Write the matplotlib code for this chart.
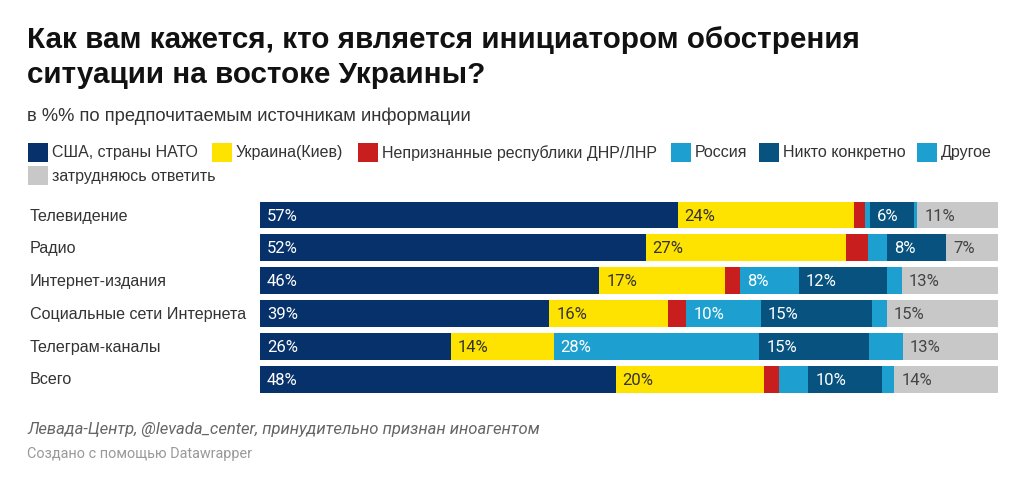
import numpy as np
import matplotlib.pyplot as plt
from matplotlib.patches import Rectangle

W, H = 1034, 489

sources = ["Телевидение", "Радио", "Интернет-издания", "Социальные сети Интернета",
           "Телеграм-каналы", "Всего"]
series = ["США, страны НАТО", "Украина(Киев)", "Непризнанные республики ДНР/ЛНР",
          "Россия", "Никто конкретно", "Другое", "затрудняюсь ответить"]

usa     = [57, 52, 46, 39, 26, 48]
ukraine = [24, 27, 17, 16, 14, 20]
dnr     = [1.5, 3, 2, 2.5, 0, 2]
russia  = [0.7, 2.5, 8, 10, 28, 4]
nobody  = [6, 8, 12, 15, 15, 10]
other   = [0.5, 0, 2, 2, 4.5, 1.6]
unsure  = [11, 7, 13, 15, 13, 14]

colors = ["#06316a", "#ffe300", "#c81e1e", "#1da0cf", "#07527e", "#1da0cf", "#c8c8c8"]
text_colors = ["white", "#333333", "white", "white", "white", "white", "#444444"]

plt.rcParams['font.family'] = ['Liberation Sans', 'DejaVu Sans']

fig = plt.figure(figsize=(W / 100, H / 100), dpi=100)


def fy(px):
    return 1 - px / H


def fx(px):
    return px / W


# title, subtitle
fig.text(fx(27), fy(48), "Как вам кажется, кто является инициатором обострения",
         fontsize=21.3, fontweight='bold', color='#111111')
fig.text(fx(27), fy(83), "ситуации на востоке Украины?",
         fontsize=21.3, fontweight='bold', color='#111111')
fig.text(fx(27), fy(121), "в %% по предпочитаемым источникам информации",
         fontsize=13.2, color='#333333')

# legend
leg_pos = [(28, 153), (212, 153), (358, 153), (671, 153), (759, 153), (917, 153), (28, 176)]
for (lx, ly), name, c in zip(leg_pos, series, colors):
    fig.patches.append(Rectangle((fx(lx), fy(ly + 9.5)), 20 / W, 19 / H,
                                 transform=fig.transFigure, color=c, lw=0))
    fig.text(fx(lx + 24), fy(ly), name, fontsize=11.5, color='#333333', va='center')

# bars
data = np.array([usa, ukraine, dnr, russia, nobody, other, unsure])
totals = data.sum(axis=0)
ax = fig.add_axes([fx(260), fy(396.6), (998 - 260) / W, 197 / H])
rows = np.arange(len(sources))
left = np.zeros(len(sources))
for vals, c, tc in zip(data, colors, text_colors):
    share = vals / totals * 100
    ax.barh(rows, share, left=left, height=0.82, color=c, lw=0)
    for r in rows:
        if vals[r] >= 6:
            ax.text(left[r] + 0.95, r, f"{vals[r]:.0f}%", va='center', ha='left',
                    fontsize=12, color=tc, family='Roboto')
    left += share
ax.set_xlim(0, 100)
ax.set_ylim(5.5, -0.5)
ax.axis('off')

for r, name in enumerate(sources):
    fig.text(fx(30), fy(216 + r * 32.8), name, fontsize=11.6, color='#333333', va='center')

# footer
fig.text(fx(27), fy(430), "Левада-Центр, @levada_center, принудительно признан иноагентом",
         fontsize=12, color='#666666', style='italic', va='center', family='Roboto')
fig.text(fx(27), fy(454), "Создано с помощью Datawrapper",
         fontsize=10.4, color='#999999', va='center', family='Roboto')

fig.savefig('out.png', dpi=100, facecolor='white')
